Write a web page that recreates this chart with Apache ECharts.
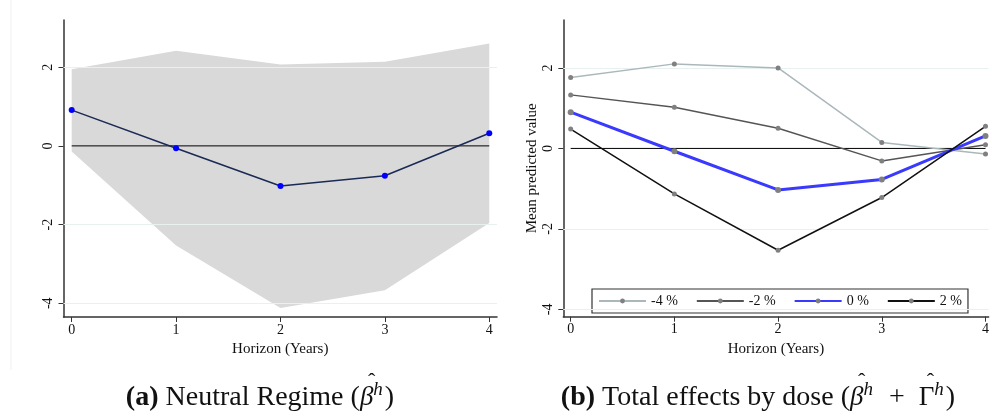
<!DOCTYPE html>
<html><head><meta charset="utf-8">
<script src="https://cdn.jsdelivr.net/npm/echarts@6/dist/echarts.min.js"></script>
<style>html,body{margin:0;padding:0;background:#fff}#c{width:992px;height:418px}</style>
</head><body><div id="c"></div>
<script>
var horizons = [0, 1, 2, 3, 4];
var xTicks = [0, 1, 2, 3, 4];
var yTicks = [-4, -2, 0, 2];
var gridVals = [-4, -2, 2];
// Panel (a)
var neutralBeta = [0.91, -0.06, -1.02, -0.76, 0.32];
var bandUpper = [1.95, 2.42, 2.07, 2.14, 2.60];
var bandLower = [-0.14, -2.53, -4.12, -3.67, -1.96];
// Panel (b)
var doseNames = ['-4 %', '-2 %', '0 %', '2 %'];
var doseM4 = [1.76, 2.10, 2.00, 0.15, -0.14];
var doseM2 = [1.33, 1.02, 0.50, -0.31, 0.09];
var dose0 = [0.90, -0.07, -1.03, -0.77, 0.31];
var doseP2 = [0.48, -1.13, -2.53, -1.22, 0.55];

var chart = echarts.init(document.getElementById('c'), null, {renderer: 'canvas'});
var serif = '"Liberation Serif", "DejaVu Serif", serif';
function pts(arr) { return horizons.map(function (h, i) { return [h, arr[i]]; }); }

function xAx(idx, min, max) {
  return {
    type: 'value', gridIndex: idx, min: min, max: max,
    name: 'Horizon (Years)', nameLocation: 'middle', nameGap: 22,
    nameTextStyle: {fontFamily: serif, fontSize: 15, color: '#111'},
    axisLine: {show: true, onZero: false, lineStyle: {color: '#333', width: 1.5}},
    axisTick: {show: true, length: 5, customValues: xTicks, lineStyle: {color: '#333'}},
    axisLabel: {customValues: xTicks, fontFamily: serif, fontSize: 14, color: '#111', margin: 6},
    splitLine: {show: false}
  };
}
function yAx(idx, min, max, name) {
  return {
    type: 'value', gridIndex: idx, min: min, max: max,
    name: name || '', nameLocation: 'middle', nameGap: 24, nameRotate: 90,
    nameTextStyle: {fontFamily: serif, fontSize: 15, color: '#111'},
    axisLine: {show: true, onZero: false, lineStyle: {color: '#333', width: 1.5}},
    axisTick: {show: true, length: 5, customValues: yTicks, lineStyle: {color: '#333'}},
    axisLabel: {customValues: yTicks, rotate: 90, fontFamily: serif, fontSize: 14, color: '#111', margin: 8},
    splitLine: {show: false}
  };
}
function gridLines(xi, yi) {
  return {
    type: 'line', xAxisIndex: xi, yAxisIndex: yi, data: [], silent: true, z: 0,
    markLine: {silent: true, symbol: 'none', label: {show: false},
      lineStyle: {color: '#e9f0f0', width: 1, type: 'solid'},
      data: gridVals.map(function (v) { return {yAxis: v}; })}
  };
}
function zeroLine(xi, yi) {
  return {type: 'line', xAxisIndex: xi, yAxisIndex: yi, data: [[0, 0], [4, 0]],
    symbol: 'none', lineStyle: {color: '#000', width: 1}, silent: true, z: 2};
}
function doseSeries(name, arr, color, width, msize) {
  return {name: name, type: 'line', xAxisIndex: 1, yAxisIndex: 1, data: pts(arr),
    symbol: 'circle', symbolSize: msize, itemStyle: {color: '#808080'},
    lineStyle: {color: color, width: width}, z: 5};
}

// Caption builder: lays text pieces left to right using measured widths, adds hats above math symbols.
var F_MAIN = '28px ' + serif, F_BOLD = 'bold 28px ' + serif;
var F_MATH = 'italic 27px ' + serif, F_UP = '27px ' + serif, F_SUP = 'italic 19px ' + serif;
function textW(t, f) { return new echarts.graphic.Text({style: {text: t, font: f}}).getBoundingRect().width; }
function caption(cx, cy, pieces) {
  var total = 0;
  pieces.forEach(function (p) { p.w = textW(p.t, p.f) + (p.gap || 0); total += p.w; });
  var x = cx - total / 2, els = [];
  pieces.forEach(function (p) {
    els.push({type: 'text', x: x, y: cy + (p.dy || 0), style: {text: p.t, font: p.f, fill: '#111',
      align: 'left', verticalAlign: 'middle'}});
    if (p.hat) {
      els.push({type: 'text', x: x + p.w / 2 + (p.hatDx || 0), y: cy - 16, style: {text: 'ˆ',
        font: '22px ' + serif, fill: '#111', align: 'center', verticalAlign: 'middle'}});
    }
    x += p.w;
  });
  return els;
}
var capA = caption(260, 398, [
  {t: '(a)', f: F_BOLD}, {t: ' Neutral Regime (', f: F_MAIN},
  {t: 'β', f: F_MATH, hat: true, hatDx: 5}, {t: 'h', f: F_SUP, dy: -8, gap: 2}, {t: ')', f: F_MAIN}
]);
var capB = caption(758, 398, [
  {t: '(b)', f: F_BOLD}, {t: ' Total effects by dose (', f: F_MAIN},
  {t: 'β', f: F_MATH, hat: true, hatDx: 5}, {t: 'h', f: F_SUP, dy: -8, gap: 2},
  {t: '  +  ', f: F_MAIN},
  {t: 'Γ', f: F_UP, hat: true, hatDx: 4}, {t: 'h', f: F_SUP, dy: -8, gap: 2}, {t: ')', f: F_MAIN}
]);

var option = {
  animation: false,
  backgroundColor: '#fff',
  grid: [
    {left: 63.5, top: 20, width: 433.5, height: 297},
    {left: 563.3, top: 20, width: 428.7, height: 296.7}
  ],
  xAxis: [xAx(0, -0.0785, 4.074), xAx(1, -0.071, 4.03)],
  yAxis: [yAx(0, -4.35, 3.20), yAx(1, -4.18, 3.19, 'Mean predicted value')],
  legend: {
    data: doseNames,
    left: 592, top: 289, orient: 'horizontal',
    padding: [5, 6, 5, 6], itemGap: 18, itemWidth: 47, itemHeight: 6,
    borderColor: '#333', borderWidth: 1.2, borderRadius: 0,
    textStyle: {fontFamily: serif, fontSize: 14, color: '#111'}
  },
  series: [
    gridLines(0, 0),
    {type: 'custom', xAxisIndex: 0, yAxisIndex: 0, data: [[0]], silent: true, z: 1,
      renderItem: function (params, api) {
        var p = [];
        horizons.forEach(function (h, i) { p.push(api.coord([h, bandUpper[i]])); });
        for (var i = horizons.length - 1; i >= 0; i--) p.push(api.coord([horizons[i], bandLower[i]]));
        return {type: 'polygon', shape: {points: p}, style: {fill: '#d9d9d9', stroke: null}};
      }},
    zeroLine(0, 0),
    {type: 'line', xAxisIndex: 0, yAxisIndex: 0, data: pts(neutralBeta), symbol: 'circle', symbolSize: 6,
      itemStyle: {color: '#0000ff'}, lineStyle: {color: '#1b2a55', width: 1.5}, z: 5},
    gridLines(1, 1),
    zeroLine(1, 1),
    doseSeries(doseNames[0], doseM4, '#aab8bc', 1.5, 5),
    doseSeries(doseNames[1], doseM2, '#555555', 1.5, 5),
    doseSeries(doseNames[2], dose0, '#3a3aff', 3, 6),
    doseSeries(doseNames[3], doseP2, '#111111', 1.5, 5)
  ],
  graphic: [
    {type: 'line', shape: {x1: 11, y1: 0, x2: 11, y2: 370}, style: {stroke: '#f0f0f0', lineWidth: 1}}
  ].concat(capA, capB)
};
chart.setOption(option);
</script></body></html>
